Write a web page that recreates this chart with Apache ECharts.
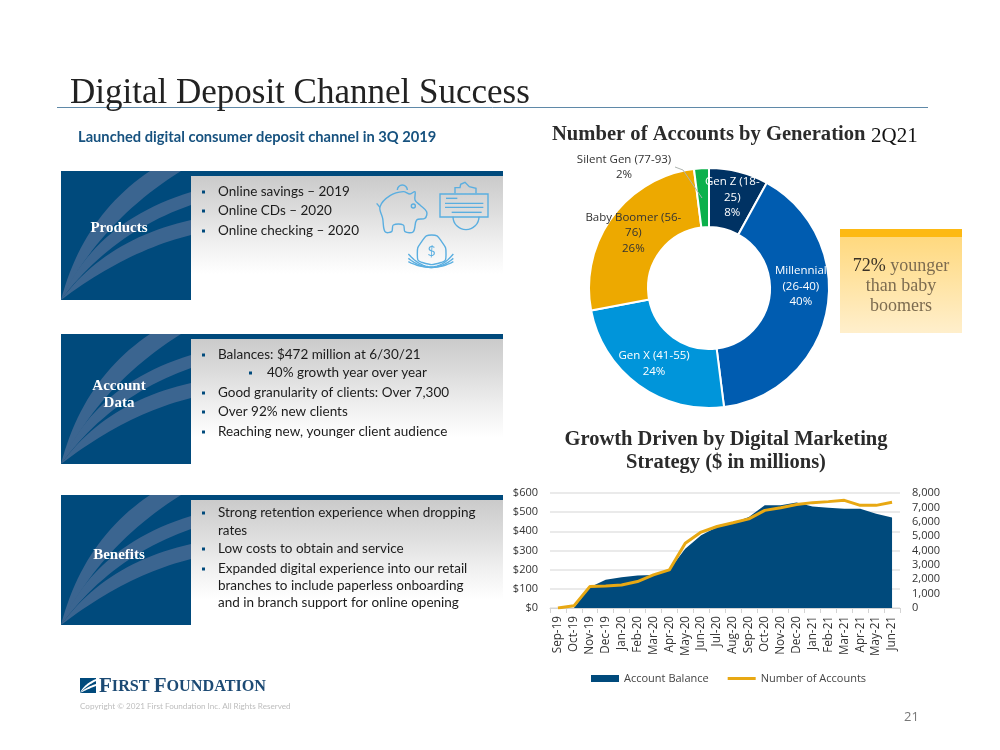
<!DOCTYPE html>
<html><head><meta charset="utf-8">
<style>html,body{margin:0;padding:0;background:#fff}#c{width:1000px;height:750px}</style>
<script src="https://cdn.jsdelivr.net/npm/echarts@6/dist/echarts.min.js"></script>
</head><body><div id="c"></div>
<script>
const months = ['Sep-19','Oct-19','Nov-19','Dec-19','Jan-20','Feb-20','Mar-20','Apr-20','May-20','Jun-20','Jul-20','Aug-20','Sep-20','Oct-20','Nov-20','Dec-20','Jan-21','Feb-21','Mar-21','Apr-21','May-21','Jun-21'];
const accountBalance = [0,0,108,147,160,170,172,199,309,379,422,443,475,536,536,550,530,523,518,518,492,472];
const numberOfAccounts = [0,150,1490,1535,1600,1840,2300,2650,4500,5280,5670,5930,6200,6790,6980,7200,7330,7400,7490,7140,7140,7350];
const generationNames = ['Gen Z (18-25)','Millennial (26-40)','Gen X (41-55)','Baby Boomer (56-76)','Silent Gen (77-93)'];
const generationLabels = ['Gen Z (18-\n25)\n8%','Millennial\n(26-40)\n40%','Gen X (41-55)\n24%','Baby Boomer (56-\n76)\n26%','Silent Gen (77-93)\n2%'];
const generationShares = [8,40,24,26,2];

const BLUE='#004a7c', BAND='#3b6590', ICON='#5aaee0';
const SANS='Lato', SERIF='"Liberation Serif"';
const g=[];
function txt(x,y,text,o){o=o||{};g.push({type:'text',x,y,z:o.z||10,style:Object.assign({text,fontFamily:o.font||SANS,fontSize:o.size||13,fontWeight:o.weight||'normal',fill:o.fill||'#222',textAlign:o.align||'left',textVerticalAlign:'middle',lineHeight:o.lh},o.rich?{rich:o.rich}:{})});}
function rect(x,y,w,h,fill){g.push({type:'rect',shape:{x,y,width:w,height:h},z:1,style:{fill}});}
function curve(p0,c,p1,n){const a=[];for(let i=0;i<=n;i++){const t=i/n,u=1-t;a.push([u*u*p0[0]+2*u*t*c[0]+t*t*p1[0],u*u*p0[1]+2*u*t*c[1]+t*t*p1[1]]);}return a;}
function band(ox,oy,bottom,c1,e1,e2,c2,color){const pts=curve([ox,bottom],[ox+c1[0],oy+c1[1]],[ox+e1[0],oy+e1[1]],24).concat(curve([ox+e2[0],oy+e2[1]],[ox+c2[0],oy+c2[1]],[ox,bottom],24));g.push({type:'polygon',shape:{points:pts},z:2,style:{fill:color||BAND}});}
function panel(y,h,label){
  rect(191,y,312,h,{type:'linear',x:0,y:0,x2:0,y2:1,colorStops:[{offset:0,color:'#c8c8c8'},{offset:.3,color:'#dcdcdc'},{offset:.55,color:'#efefef'},{offset:.8,color:'#ffffff'},{offset:1,color:'#ffffff'}]});
  rect(191,y,312,5,BLUE);
  rect(61,y,130,h,BLUE);
  const b=y+h;
  band(61,y,b,[22,45],[89,0],[120,0],[40,50]);
  band(61,y,b,[35,50],[130,21],[130,34],[50,62]);
  band(61,y,b,[45,68],[130,49],[130,64],[65,80]);
  txt(119,label.y,label.text,{font:SERIF,size:15,weight:'bold',fill:'#fff',align:'center',lh:17});
}
function bullets(list){list.forEach(l=>{if(l.b!==undefined){rect(l.b,l.y-1.5,3,3,BLUE);g[g.length-1].z=10;}txt(l.x||218,l.y,l.t,{size:13.5,fill:'#1c1c1c'});});}

// header
txt(70,94,'Digital Deposit Channel Success',{font:SERIF,size:35,fill:'#222'});
g.push({type:'line',shape:{x1:57,y1:107.5,x2:928,y2:107.5},z:5,style:{stroke:'#5f89a8',lineWidth:1}});
txt(78,137,'Launched digital consumer deposit channel in 3Q 2019',{size:14.7,weight:'bold',fill:'#17527f'});

// panels
panel(171,129,{y:228,text:'Products'});
panel(334,130,{y:395,text:'Account\nData'});
panel(495,130,{y:555,text:'Benefits'});
bullets([{b:202,y:192,t:'Online savings – 2019'},{b:202,y:211,t:'Online CDs – 2020'},{b:202,y:231,t:'Online checking – 2020'}]);
bullets([{b:202,y:355,t:'Balances: $472 million at 6/30/21'},{b:249,x:267,y:373,t:'40% growth year over year'},{b:202,y:393,t:'Good granularity of clients: Over 7,300'},{b:202,y:412,t:'Over 92% new clients'},{b:202,y:432,t:'Reaching new, younger client audience'}]);
bullets([{b:202,y:513,t:'Strong retention experience when dropping'},{y:531,t:'rates'},{b:202,y:549,t:'Low costs to obtain and service'},{b:202,y:569,t:'Expanded digital experience into our retail'},{y:586,t:'branches to include paperless onboarding'},{y:603,t:'and in branch support for online opening'}]);

// icons
const ix=x=>370+x/3, iy=y=>175+y/3, ip=a=>a.map(p=>[ix(p[0]),iy(p[1])]);
const st={stroke:ICON,lineWidth:1.4,fill:'none'};
g.push({type:'polygon',z:6,shape:{smooth:.35,points:ip([[30,95],[60,62],[100,50],[120,57],[135,50],[135,75],[150,90],[170,110],[165,130],[140,135],[130,170],[105,170],[100,150],[70,150],[65,170],[45,170],[38,130]])},style:st});
g.push({type:'arc',z:6,shape:{cx:ix(97),cy:iy(45),r:5,startAngle:Math.PI,endAngle:0},style:st});
g.push({type:'circle',z:6,shape:{cx:ix(130),cy:iy(93),r:2},style:st});
g.push({type:'line',z:6,shape:{x1:ix(20),y1:iy(85),x2:ix(30),y2:iy(97)},style:st});
g.push({type:'rect',z:6,shape:{x:ix(210),y:iy(57),width:48,height:23},style:st});
g.push({type:'arc',z:6,shape:{cx:ix(288),cy:iy(125),r:13,startAngle:0,endAngle:Math.PI},style:st});
g.push({type:'polyline',z:6,shape:{points:ip([[255,55],[255,38],[270,38],[272,28],[285,22],[298,35],[318,40],[318,55]])},style:st});
[[225,340,85],[225,340,97],[245,335,112]].forEach(l=>g.push({type:'line',z:6,shape:{x1:ix(l[0]),y1:iy(l[2]),x2:ix(l[1]),y2:iy(l[2])},style:st}));
g.push({type:'line',z:6,shape:{x1:ix(228),y1:iy(70),x2:ix(262),y2:iy(70)},style:st});
g.push({type:'polygon',z:6,shape:{smooth:.6,points:ip([[185,180],[215,200],[228,240],[215,262],[155,262],[142,240],[155,200]])},style:st});
txt(ix(185),iy(230),'$',{size:14,fill:ICON,align:'center',z:6});
[[262,295],[275,285],[285,275]].forEach(n=>g.push({type:'polyline',z:6,shape:{points:ip(curve([115,n[0]-25],[185,n[1]+20],[250,n[0]-25],16))},style:st}));

// callout
rect(840,229,122,104,{type:'linear',x:0,y:0,x2:0,y2:1,colorStops:[{offset:0,color:'#ffd778'},{offset:1,color:'#ffefcc'}]});
rect(840,229,122,8,'#fdb913');
txt(901,266,'{d|72%} younger',{font:SERIF,size:18,fill:'#7d6c50',align:'center',rich:{d:{fill:'#3a3226',fontFamily:SERIF,fontSize:18}}});
txt(901,286,'than baby',{font:SERIF,size:18,fill:'#7d6c50',align:'center'});
txt(901,306,'boomers',{font:SERIF,size:18,fill:'#7d6c50',align:'center'});

// chart titles
txt(552,135,'Number of Accounts by Generation',{font:SERIF,size:20.6,weight:'bold',fill:'#2b2b2b'});
txt(871,136,'2Q21',{font:SERIF,size:21,fill:'#111'});
txt(726,440,'Growth Driven by Digital Marketing',{font:SERIF,size:20.5,weight:'bold',fill:'#2b2b2b',align:'center'});
txt(726,463,'Strategy ($ in millions)',{font:SERIF,size:20.5,weight:'bold',fill:'#2b2b2b',align:'center'});

// silent generation leader
g.push({type:'polyline',z:20,shape:{points:[[675,167],[683,170],[702,198]]},style:{stroke:'#aeb4b0',lineWidth:1,fill:'none'}});

// footer
rect(80,678,16,15,BLUE);
band(80,678,693,[4,6],[16,1],[16,3],[6,8],'#ffffff');
band(80,678,693,[6,9],[16,6],[16,8],[8,11],'#ffffff');
txt(99,687,'{a|F}{b|IRST }{a|F}{b|OUNDATION}',{font:SERIF,size:16,weight:'bold',fill:'#1c4a74',rich:{a:{fontFamily:SERIF,fontSize:21,fontWeight:'bold',fill:'#1c4a74'},b:{fontFamily:SERIF,fontSize:16.2,fontWeight:'bold',fill:'#1c4a74'}}});
txt(80,706,'Copyright © 2021 First Foundation Inc. All Rights Reserved',{size:8.15,fill:'#bdbdbd'});
txt(904,717,'21',{font:'"Open Sans"',size:13,fill:'#777'});

const chart=echarts.init(document.getElementById('c'),null,{renderer:'canvas'});
chart.setOption({
  animation:false,backgroundColor:'#fff',
  graphic:{elements:g},
  grid:{left:550,top:493,width:350,height:115},
  legend:{top:668,left:586,itemGap:19,itemWidth:28,itemHeight:7,symbolKeepAspect:false,textStyle:{fontFamily:'"Open Sans"',fontSize:11,color:'#444'},
    data:[{name:'Account Balance',icon:'rect'},{name:'Number of Accounts',icon:'path://M0,0L0,0Z M0,30L100,30L100,70L0,70Z M0,100L0,100Z',itemStyle:{color:'#e8a813'}}]},
  xAxis:{type:'category',data:months,boundaryGap:true,
    axisLine:{lineStyle:{color:'#d4d4d4'}},axisTick:{show:true,alignWithLabel:false,lineStyle:{color:'#d4d4d4'},length:5},
    axisLabel:{rotate:90,interval:0,fontFamily:'"Open Sans"',fontSize:11.7,color:'#333',margin:8}},
  yAxis:[
    {type:'value',min:0,max:600,interval:100,axisLine:{show:false},axisTick:{show:false},
     splitLine:{lineStyle:{color:'#e3e3e3',width:1.5}},
     axisLabel:{formatter:v=>'$'+v,fontFamily:'"Open Sans"',fontSize:11,color:'#333',margin:12}},
    {type:'value',min:0,max:8000,interval:1000,axisLine:{show:false},axisTick:{show:false},splitLine:{show:false},
     axisLabel:{formatter:v=>v.toLocaleString('en-US'),fontFamily:'"Open Sans"',fontSize:11,color:'#333',margin:12}}
  ],
  series:[
    {type:'line',name:'Account Balance',data:accountBalance,symbol:'none',lineStyle:{width:0},itemStyle:{color:BLUE},areaStyle:{color:BLUE,opacity:1},z:2},
    {type:'line',name:'Number of Accounts',yAxisIndex:1,data:numberOfAccounts,symbol:'none',lineStyle:{width:3,color:'#e8a813'},itemStyle:{color:'#e8a813'},z:3},
    {type:'pie',name:'Generation',center:[709,288],radius:[61,120],startAngle:90,clockwise:true,
     itemStyle:{borderColor:'#fff',borderWidth:2},
     label:{position:'inside',fontFamily:'"Open Sans"',fontSize:11.5,lineHeight:15.5,color:'#fff',formatter:p=>generationLabels[p.dataIndex]},
     labelLine:{show:false},
     emphasis:{disabled:true},
     labelLayout:p=>p.dataIndex===4?{x:624,y:167,align:'center',verticalAlign:'middle'}:{},
     data:generationNames.map((name,i)=>({name,value:generationShares[i],
       itemStyle:{color:['#003263','#005cb0','#0095da','#eda900','#0cb14b'][i]},
       label:i===3?{color:'#333'}:i===4?{position:'outside',color:'#333'}:i===1?{offset:[0,-19]}:{},
       labelLine:{show:false}}))}
  ]
});
</script></body></html>
